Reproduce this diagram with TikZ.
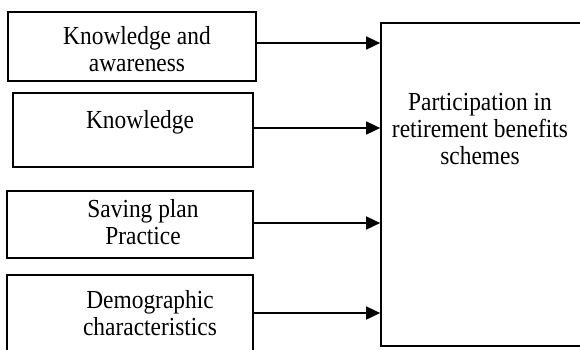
\documentclass[tikz,border=0pt]{standalone}
\usepackage{fontspec}
\setmainfont[FakeStretch=0.9]{Liberation Serif}
\usetikzlibrary{arrows.meta}
\begin{document}
\begin{tikzpicture}[x=1pt,y=-1pt,
  box/.style={draw, line width=1.7pt, inner sep=0pt},
  lbl/.style={align=center, inner sep=0pt, anchor=north, font=\fontsize{26}{27}\selectfont},
  conn/.style={line width=1.7pt, -{Triangle[length=14pt,width=13pt]}}]
\useasboundingbox (0,0) rectangle (580,349);
\clip (0,0) rectangle (580,349);
\fill[white] (0,0) rectangle (580,349);
% input boxes
\node[box, minimum width=248pt, minimum height=69pt] (b1) at (132,46.5) {};
\node[box, minimum width=240pt, minimum height=74pt] (b2) at (133,130) {};
\node[box, minimum width=246pt, minimum height=67pt] (b3) at (130,224.5) {};
\node[box, minimum width=246pt, minimum height=90pt] (b4) at (130,320) {};
% outcome box
\node[box, minimum width=214pt, minimum height=323pt] (big) at (488,184.5) {};
% labels
\node[lbl] (t1) at (137,26.2) {Knowledge and\\awareness};
\node[lbl] (t2) at (140,109.9) {Knowledge};
\node[lbl] (t3) at (143,198.9) {Saving plan\\Practice};
\node[lbl] (t4) at (150,290.5) {Demographic\\characteristics};
\node[lbl] (t5) at (480,93.2) {Participation in\\retirement benefits\\schemes};
% arrow heights
\coordinate (y1) at (0,43);
\coordinate (y2) at (0,128);
\coordinate (y3) at (0,223);
\coordinate (y4) at (0,313);
\draw[conn] (b1.east |- y1) -- (big.west |- y1);
\draw[conn] (b2.east |- y2) -- (big.west |- y2);
\draw[conn] (b3.east |- y3) -- (big.west |- y3);
\draw[conn] (b4.east |- y4) -- (big.west |- y4);
\end{tikzpicture}
\end{document}
